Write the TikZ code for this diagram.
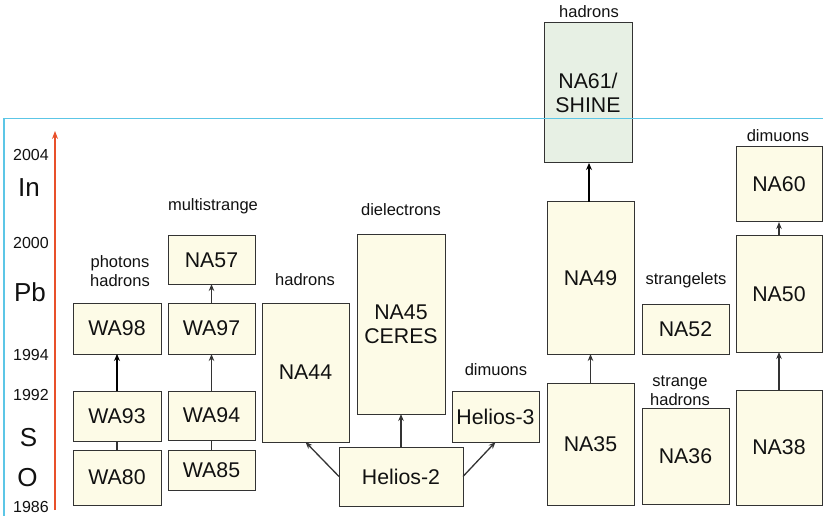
\documentclass[tikz,border=0pt]{standalone}
\usepackage{fontspec}
\setmainfont{Liberation Sans}
\usetikzlibrary{arrows.meta}
\definecolor{boxfill}{HTML}{FDFBE7}
\definecolor{greenfill}{HTML}{E7F0E4}
\definecolor{boxline}{HTML}{333333}
\definecolor{frameblue}{HTML}{5CC6E6}
\definecolor{axisred}{HTML}{E8502A}
\definecolor{txt}{HTML}{111111}
\tikzset{
  expbox/.style={draw=boxline, line width=1pt, fill=boxfill, inner sep=0pt, outer sep=0pt,
    align=center, text=txt, font=\fontsize{21.3}{24}\selectfont},
  lbl/.style={inner sep=0pt, align=center, text=txt, font=\fontsize{16.5}{18.5}\selectfont},
  yr/.style={inner sep=0pt, text=txt, font=\fontsize{16}{18}\selectfont},
  elem/.style={inner sep=0pt, text=txt, font=\fontsize{26}{28}\selectfont},
  conn/.style={draw=boxline, line width=1.3pt, -{Stealth[length=7pt,width=5.5pt]}},
  thickconn/.style={draw=black, line width=2pt, -{Stealth[length=7pt,width=6pt]}},
  plainconn/.style={draw=boxline, line width=1.3pt}
}
\begin{document}
\begin{tikzpicture}[x=1pt,y=-1pt]
\useasboundingbox (0,0) rectangle (823,516);
% boxes
\node[expbox, minimum width=88pt, minimum height=51pt] (WA98) at (117,328.5) {WA98};
\node[expbox, minimum width=87pt, minimum height=51pt] (WA97) at (211.5,328.5) {WA97};
\node[expbox, minimum width=87pt, minimum height=48pt] (NA57) at (211.5,260) {NA57};
\node[expbox, minimum width=88pt, minimum height=50pt] (WA93) at (117,416) {WA93};
\node[expbox, minimum width=88pt, minimum height=55pt] (WA80) at (117,477.5) {WA80};
\node[expbox, minimum width=87pt, minimum height=49pt] (WA94) at (211.5,415.5) {WA94};
\node[expbox, minimum width=87pt, minimum height=40pt] (WA85) at (211.5,470) {WA85};
\node[expbox, minimum width=87pt, minimum height=139pt] (NA44) at (305.5,372.5) {NA44};
\node[expbox, minimum width=88pt, minimum height=179pt] (NA45) at (401,324.5) {NA45\\CERES};
\node[expbox, minimum width=124pt, minimum height=59pt] (H2) at (401,476.5) {Helios-2};
\node[expbox, minimum width=87pt, minimum height=51pt] (H3) at (495.5,416.5) {Helios-3};
\node[expbox, fill=greenfill, minimum width=88pt, minimum height=140pt] (NA61) at (588,93) {NA61/\\SHINE};
\node[expbox, minimum width=87pt, minimum height=152pt] (NA49) at (590.5,278) {NA49};
\node[expbox, minimum width=87pt, minimum height=122pt] (NA35) at (590.5,444) {NA35};
\node[expbox, minimum width=87pt, minimum height=50pt] (NA52) at (685.5,329) {NA52};
\node[expbox, minimum width=87pt, minimum height=96pt] (NA36) at (685.5,456) {NA36};
\node[expbox, minimum width=86pt, minimum height=115pt] (NA38) at (779,447.5) {NA38};
\node[expbox, minimum width=86pt, minimum height=116pt] (NA50) at (779,294) {NA50};
\node[expbox, minimum width=86pt, minimum height=75pt] (NA60) at (779,184.5) {NA60};
% labels
\node[lbl] (lphot) at (120,271) {photons\\hadrons};
\node[lbl] (lmulti) at (213,206) {multistrange};
\node[lbl] (lhad1) at (305,280) {hadrons};
\node[lbl] (ldiel) at (401,210) {dielectrons};
\node[lbl] (ldim1) at (496,370) {dimuons};
\node[lbl] (lhad2) at (589,12) {hadrons};
\node[lbl] (lstrl) at (686,280) {strangelets};
\node[lbl] (lstrh) at (680,390.5) {strange\\hadrons};
\node[lbl] (ldim2) at (778,136) {dimuons};
% connectors
\draw[thickconn] (WA93.north) -- (WA98.south);
\draw[plainconn] (WA80.north) -- (WA93.south);
\draw[conn] (WA94.north) -- (WA97.south);
\draw[plainconn] (WA85.north) -- (WA94.south);
\draw[conn] (WA97.north) -- (NA57.south);
\draw[conn] (H2.west) -- (NA44.south);
\draw[conn] (H2.north) -- (NA45.south);
\draw[conn] (H2.east) -- (H3.south);
\draw[conn] (NA35.north) -- (NA49.south);
\draw[thickconn] ([xshift=-1.5pt]NA49.north) -- ([xshift=-1.5pt]NA49.north |- NA61.south);
\draw[conn] (NA38.north) -- (NA50.south);
\draw[conn] (NA50.north) -- (NA60.south);
% axis
\coordinate (axb) at (55,510);
\coordinate (axt) at (55,131);
\draw[axisred, line width=1.3pt, -{Stealth[length=8pt,width=6pt]}] (axb) -- (axt);
\node[yr] (y2004) at (31,155) {2004};
\node[elem] (eIn) at (29,188) {In};
\node[yr] (y2000) at (31,243) {2000};
\node[elem] (ePb) at (30,292) {Pb};
\node[yr] (y1994) at (31,355) {1994};
\node[yr] (y1992) at (31,395) {1992};
\node[elem] (eS) at (28.5,438) {S};
\node[elem] (eO) at (27.5,478) {O};
\node[yr] (y1986) at (31,506.5) {1986};
% frame
\coordinate (fbl) at (4,516);
\coordinate (ftl) at (4,118.5);
\coordinate (ftr) at (823,118.5);
\draw[frameblue, line width=1.2pt] (fbl) -- (ftl) -- (ftr);
\end{tikzpicture}
\end{document}
